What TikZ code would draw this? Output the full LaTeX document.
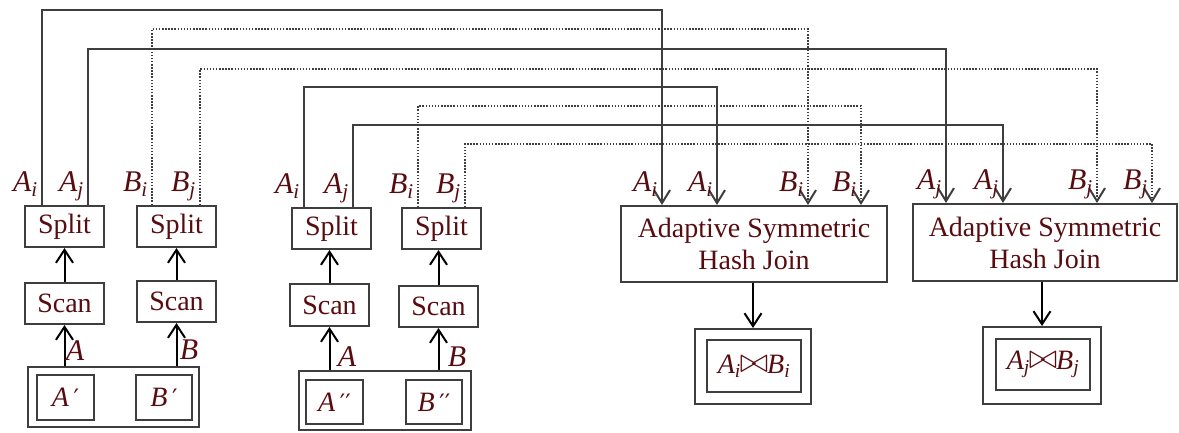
\documentclass[tikz,border=0pt]{standalone}
\usepackage{fontspec}
\setmainfont{Liberation Serif}
\newfontfamily\symfont{DejaVu Sans}
\usepackage{tikz}
\usetikzlibrary{arrows.meta}
\definecolor{ink}{RGB}{88,12,16}
\definecolor{edge}{RGB}{62,62,62}
\newcommand{\diagfont}{\fontsize{28}{32}\selectfont}
\newcommand{\att}[2]{\textit{#1}\textsubscript{\textit{#2}}}
\newcommand{\jn}{\kern-1pt\raisebox{1pt}{\scalebox{1.4}{$\bowtie$}}\kern-1pt}
\newcommand{\pr}{{\symfont\fontsize{24}{24}\selectfont ′}}

\begin{document}
\begin{tikzpicture}[x=1pt,y=-1pt,
  box/.style={draw=edge,line width=2pt,inner sep=0pt,text=ink,font=\diagfont},
  lbl/.style={inner sep=0pt,text=ink,font=\fontsize{30}{32}\selectfont},
  up/.style={line width=2pt,-{Straight Barb[length=13pt,width=17pt,line width=2pt]}},
  wire/.style={edge,line width=2pt,-{Straight Barb[length=13pt,width=16pt,line width=2pt]}},
  dwire/.style={wire,line width=1.5pt,dash pattern=on 1.5pt off 1.6pt}]
\useasboundingbox (0,0) rectangle (1179,432);
% first partition: A', B'
\node[box,minimum width=171pt,minimum height=60pt] (store1) at (113.5,397) {};
\node[box,minimum width=57pt,minimum height=45pt] (relA1) at (65.5,397.5) {\textit{A}\,\pr};
\node[box,minimum width=56pt,minimum height=45pt] (relB1) at (164,397.5) {\textit{B}\,\pr};
\node[box,minimum width=79pt,minimum height=41pt] (scanA1) at (64.5,303.5) {Scan};
\node[box,minimum width=79pt,minimum height=41pt] (scanB1) at (176.5,301.5) {Scan};
\node[box,minimum width=79pt,minimum height=41pt] (splitA1) at (64.5,226.5) {Split};
\node[box,minimum width=79pt,minimum height=41pt] (splitB1) at (176.5,226.5) {Split};
% second partition: A'', B''
\node[box,minimum width=172pt,minimum height=59pt] (store2) at (385,400.5) {};
\node[box,minimum width=57pt,minimum height=44pt] (relA2) at (334.5,402) {\textit{A}\,\pr\pr};
\node[box,minimum width=56pt,minimum height=44pt] (relB2) at (434,402) {\textit{B}\,\pr\pr};
\node[box,minimum width=79pt,minimum height=42pt] (scanA2) at (329.5,305) {Scan};
\node[box,minimum width=79pt,minimum height=41pt] (scanB2) at (438.5,306.5) {Scan};
\node[box,minimum width=79pt,minimum height=41pt] (splitA2) at (331.5,228.5) {Split};
\node[box,minimum width=79pt,minimum height=41pt] (splitB2) at (441.5,228.5) {Split};
% the two joins and their results
\node[box,minimum width=266pt,minimum height=76pt,align=center] (join1) at (754,244)
  {Adaptive Symmetric\\Hash Join};
\node[box,minimum width=264pt,minimum height=77pt,align=center] (join2) at (1045,242.5)
  {Adaptive Symmetric\\Hash Join};
\node[box,minimum width=116pt,minimum height=75pt] (res1) at (753,366.5) {};
\node[box,minimum width=94pt,minimum height=52pt] (res1in) at (754,366)
  {\att{A}{i}\jn\att{B}{i}};
\node[box,minimum width=118pt,minimum height=77pt] (res2) at (1042,365.5) {};
\node[box,minimum width=94pt,minimum height=51pt] (res2in) at (1043,364.5)
  {\att{A}{j}\jn\att{B}{j}};
% scan and split arrows
\foreach \i in {1,2} {
  \draw[up] (scanA\i.south |- store\i.north) -- (scanA\i);
  \draw[up] (scanB\i.south |- store\i.north) -- (scanB\i);
  \draw[up] (scanA\i.north) -- (scanA\i.north |- splitA\i.south);
  \draw[up] (scanB\i.north) -- (scanB\i.north |- splitB\i.south);
}
\node[lbl] (inA1) at (75,351) {\textit{A}};
\node[lbl] (inB1) at (189,350) {\textit{B}};
\node[lbl] (inA2) at (347,357) {\textit{A}};
\node[lbl] (inB2) at (457,357) {\textit{B}};
\draw[up] (join1.south -| res1.north) -- (res1);
\draw[up] (join2.south -| res2.north) -- (res2);
% split outputs
\coordinate (ai1) at (splitA1.north -| 42,0);
\coordinate (aj1) at (splitA1.north -| 88,0);
\coordinate (bi1) at (splitB1.north -| 152,0);
\coordinate (bj1) at (splitB1.north -| 200,0);
\coordinate (ai2) at (splitA2.north -| 304,0);
\coordinate (aj2) at (splitA2.north -| 353,0);
\coordinate (bi2) at (splitB2.north -| 418,0);
\coordinate (bj2) at (splitB2.north -| 465,0);
% join inputs
\coordinate (j1a) at (join1.north -| 662,0);
\coordinate (j1b) at (join1.north -| 717,0);
\coordinate (j1c) at (join1.north -| 808,0);
\coordinate (j1d) at (join1.north -| 861,0);
\coordinate (j2a) at (join2.north -| 946,0);
\coordinate (j2b) at (join2.north -| 1003,0);
\coordinate (j2c) at (join2.north -| 1097,0);
\coordinate (j2d) at (join2.north -| 1152,0);
% routing, one level per partition stream
\foreach \src/\dst/\lev/\sty in {ai1/j1a/10/wire, bi1/j1c/29/dwire,
    aj1/j2a/49/wire, bj1/j2c/69/dwire, ai2/j1b/87/wire, bi2/j1d/106/dwire,
    aj2/j2b/125/wire, bj2/j2d/144/dwire}
  \draw[\sty] (\src) -- (\src |- 0,\lev) -| (\dst);
\foreach \p/\t in {ai1/{\att{A}{i}}, aj1/{\att{A}{j}}, bi1/{\att{B}{i}}, bj1/{\att{B}{j}},
    ai2/{\att{A}{i}}, aj2/{\att{A}{j}}, bi2/{\att{B}{i}}, bj2/{\att{B}{j}},
    j1a/{\att{A}{i}}, j1b/{\att{A}{i}}, j1c/{\att{B}{i}}, j1d/{\att{B}{i}},
    j2a/{\att{A}{j}}, j2b/{\att{A}{j}}, j2c/{\att{B}{j}}, j2d/{\att{B}{j}}}
  \node[lbl,anchor=base east] (l-\p) at ([shift={(-4,-14)}]\p) {\t};
\end{tikzpicture}
\end{document}
